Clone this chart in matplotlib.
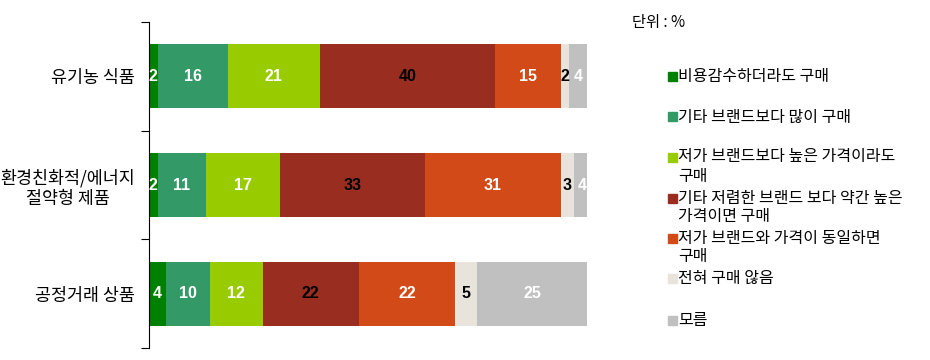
import matplotlib
matplotlib.use('Agg')
import matplotlib.pyplot as plt
from matplotlib.patches import Rectangle

plt.rcParams['font.family'] = ['Noto Sans CJK KR', 'DejaVu Sans']

categories = ['유기농 식품', '환경친화적/에너지\n절약형 제품', '공정거래 상품']
series = ['비용감수하더라도 구매', '기타 브랜드보다 많이 구매',
          '저가 브랜드보다 높은 가격이라도\n구매', '기타 저렴한 브랜드 보다 약간 높은\n가격이면 구매',
          '저가 브랜드와 가격이 동일하면\n구매', '전혀 구매 않음', '모름']
values = [
    [2, 2, 4],
    [16, 11, 10],
    [21, 17, 12],
    [40, 33, 22],
    [15, 31, 22],
    [2, 3, 5],
    [4, 4, 25],
]
colors = ['#008000', '#339966', '#99CC00', '#992E20', '#D24A18', '#E8E4DC', '#C0C0C0']
label_colors = ['white', 'white', 'white', 'black', 'white', 'black', 'white']

fig = plt.figure(figsize=(9.3, 3.6), dpi=100)
ax = fig.add_axes([0.160, 0.033, 0.471, 0.906])

ypos = list(range(len(categories)))
left = [0] * len(categories)
for vals, col, lc in zip(values, colors, label_colors):
    ax.barh(ypos, vals, left=left, height=0.59, color=col)
    for y, v, l in zip(ypos, vals, left):
        ax.text(l + v / 2, y, str(v), ha='center', va='center', color=lc,
                fontsize=11.5, fontweight='bold', family='Liberation Sans')
    left = [a + b for a, b in zip(left, vals)]

ax.set_xlim(0, 100)
ax.set_ylim(2.5, -0.5)
ax.set_yticks([-0.5, 0.5, 1.5, 2.5])
ax.set_yticklabels([])
ax.set_yticks(ypos, minor=True)
ax.set_yticklabels(categories, minor=True, fontsize=12.5, ha='right', multialignment='center')
ax.tick_params(axis='y', which='minor', length=0, pad=10)
ax.tick_params(axis='y', which='major', length=6, direction='out')
ax.set_xticks([])
for s in ['top', 'right', 'bottom']:
    ax.spines[s].set_visible(False)

# legend
fig.text(632 / 930, 1 - 22 / 360, '단위 : %', fontsize=11, va='center')
leg_y = [76, 117, 157, 198, 238, 278, 320]
for y, name, col in zip(leg_y, series, colors):
    fy = 1 - y / 360
    fig.patches.append(Rectangle((668 / 930, fy - 4.5 / 360), 9 / 930, 9 / 360,
                                 transform=fig.transFigure, color=col))
    for i, line in enumerate(name.split('\n')):
        fig.text(678 / 930, fy - i * 19 / 360, line, fontsize=11.5, va='center')

fig.savefig('out.png', dpi=100)
